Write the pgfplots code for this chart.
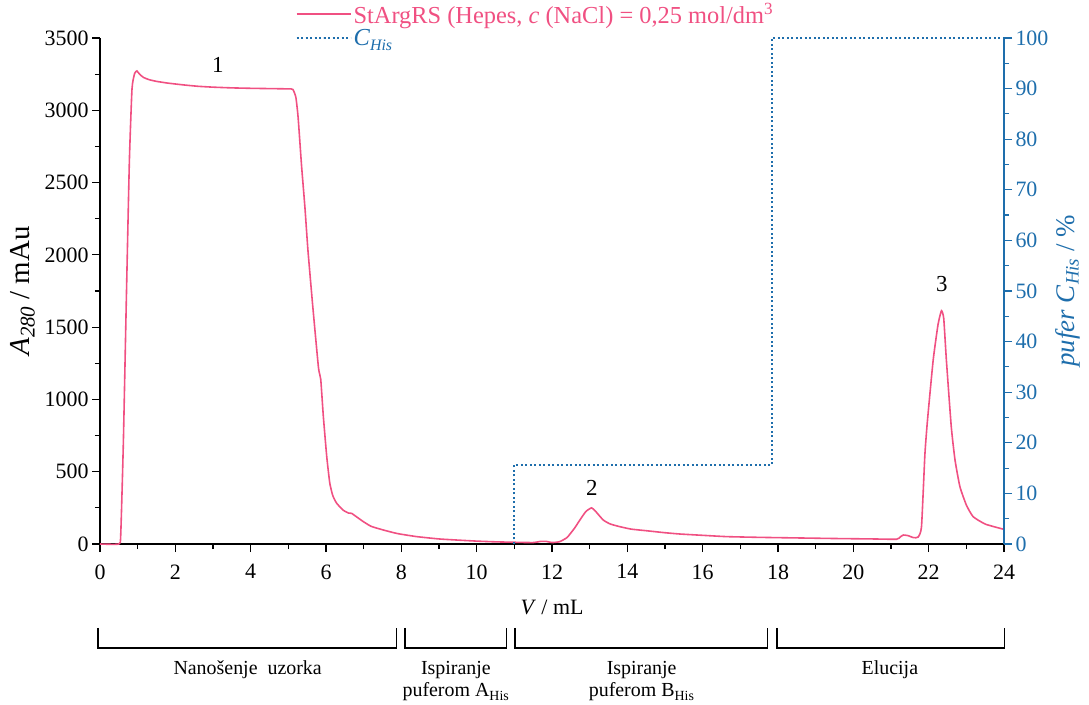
\documentclass[border=0pt]{standalone}
\usepackage{pgfplots}
\pgfplotsset{compat=1.18}
\usepackage{fontspec}
\setmainfont{Liberation Serif}
\definecolor{pinkline}{RGB}{240,80,130}
\definecolor{hisblue}{RGB}{30,110,172}
\begin{document}
\begin{tikzpicture}
\pgfplotsset{
  every axis/.append style={
    scale only axis, width=904bp, height=506bp,
    xmin=0, xmax=24,
    /pgf/number format/assume math mode=true,
    tick align=outside,
    major tick length=8bp, minor tick length=5bp,
    every tick/.style={line width=1.2pt},
    tick label style={font=\fontsize{22}{26}\selectfont},
  }
}
\begin{axis}[
  name=main,
  ymin=0, ymax=3500,
  axis x line*=bottom, axis y line*=left,
  axis line style={line width=1.2pt, -},
  xtick={0,2,...,24}, minor xtick={1,3,...,23},
  ytick={0,500,...,3500}, minor ytick={250,750,...,3250},
  scaled y ticks=false,
  yticklabel style={/pgf/number format/1000 sep={}},
  xticklabel style={yshift=-9bp},
  xlabel={\textit{V} / mL},
  xlabel style={font=\fontsize{22}{26}\selectfont, yshift=-14bp},
  ylabel={\textit{A}\raisebox{-0.35ex}{\fontsize{21}{24}\selectfont\textit{280}} / mAu},
  ylabel style={font=\fontsize{29}{34}\selectfont, yshift=3bp},
  clip=false,
  legend style={draw=none, fill=none, at={(rel axis cs:0.213,1.078)}, anchor=north west,
    font=\fontsize{24.5}{28}\selectfont, row sep=1bp,
    legend cell align=left},
  legend image code/.code={\draw[#1, line width=1.8pt] plot coordinates {(0bp,0bp) (27bp,0bp) (54bp,0bp)};},
]
\addplot[pinkline, line width=1.6pt, smooth, tension=0.3] coordinates {
(0,0)(0.5,0)(0.55,60)(0.62,700)(0.7,1700)(0.78,2650)(0.85,3150)(0.92,3255)(0.98,3272)(1.05,3250)(1.15,3228)(1.3,3212)(1.5,3200)(1.8,3188)(2.2,3176)(2.6,3166)(3.0,3160)(3.5,3155)(4.0,3152)(4.5,3150)(5.0,3148)(5.12,3144)(5.2,3090)(5.26,2950)(5.35,2620)(5.44,2330)(5.52,2034)(5.65,1640)(5.8,1220)(5.86,1140)(5.93,880)(6.02,604)(6.1,422)(6.18,335)(6.28,283)(6.45,235)(6.6,214)(6.68,212)(6.8,190)(6.99,155)(7.2,122)(7.52,97)(7.9,72)(8.41,51)(9.0,35)(9.5,27)(10,20)(10.5,15)(11,12)(11.5,10)(11.7,18)(11.85,18)(12.0,10)(12.2,16)(12.4,45)(12.6,110)(12.74,166)(12.9,225)(13.05,250)(13.15,228)(13.36,166)(13.55,138)(13.8,120)(14.1,103)(14.5,92)(15,78)(15.4,69)(16,60)(16.64,51)(17.5,46)(18.5,42)(19.5,38)(20.5,35)(21.15,33)(21.25,50)(21.33,62)(21.45,58)(21.6,44)(21.72,48)(21.81,120)(21.9,620)(21.97,860)(22.12,1273)(22.25,1520)(22.34,1614)(22.4,1560)(22.47,1273)(22.6,811)(22.7,580)(22.83,396)(23.0,270)(23.18,189)(23.5,138)(23.9,108)(24,102)
};
\addlegendentry{\textcolor{pinkline}{StArgRS (Hepes, \textit{c} (NaCl) = 0,25 mol/dm\textsuperscript{3}}}
\addlegendimage{hisblue, dash pattern=on 2bp off 2.5bp}
\addlegendentry{\textcolor{hisblue}{\textit{C}\smash{\raisebox{-0.45ex}{\fontsize{16}{19}\selectfont\textit{His}}}}}
% peak labels
\node[font=\fontsize{23}{27}\selectfont] at (axis cs:3.13,3313) {1};
\node[font=\fontsize{23}{27}\selectfont] at (axis cs:13.06,387) {2};
\node[font=\fontsize{23}{27}\selectfont] at (axis cs:22.35,1798) {3};
% phase brackets
\begin{scope}[line width=1.3pt]
\draw (axis cs:-0.05,-581) -- (axis cs:-0.05,-719) -- (axis cs:7.88,-719) -- (axis cs:7.88,-581);
\draw (axis cs:8.10,-581) -- (axis cs:8.10,-719) -- (axis cs:10.80,-719) -- (axis cs:10.80,-581);
\draw (axis cs:11.02,-581) -- (axis cs:11.02,-719) -- (axis cs:17.73,-719) -- (axis cs:17.73,-581);
\draw (axis cs:17.97,-581) -- (axis cs:17.97,-719) -- (axis cs:24.02,-719) -- (axis cs:24.02,-581);
\end{scope}
\begin{scope}[every node/.style={font=\fontsize{20}{24}\selectfont, anchor=base}]
\node at (axis cs:3.92,-906) {Nanošenje\ \ uzorka};
\node at (axis cs:9.45,-906) {Ispiranje};
\node at (axis cs:9.45,-1058) {puferom A\textsubscript{His}};
\node at (axis cs:14.38,-906) {Ispiranje};
\node at (axis cs:14.38,-1058) {puferom B\textsubscript{His}};
\node at (axis cs:20.97,-906) {Elucija};
\end{scope}
\end{axis}
\begin{axis}[
  ymin=0, ymax=100,
  axis x line=none, axis y line*=right,
  axis line style={line width=1.2pt, hisblue, -},
  ytick={0,10,...,100}, minor ytick={5,15,...,95},
  every tick/.style={line width=1.2pt, hisblue},
  yticklabel style={hisblue},
  ylabel={\textit{pufer C}\raisebox{-0.35ex}{\fontsize{19}{22}\selectfont\textit{His}} / \%},
  ylabel style={hisblue, font=\fontsize{27}{32}\selectfont},
]
\addplot[hisblue, line width=1.8pt, dash pattern=on 2bp off 2.5bp] coordinates {
(11,0)(11,15.6)(17.84,15.6)(17.84,100)(24,100)
};
\end{axis}
\pgfresetboundingbox
\path[use as bounding box] ([xshift=-100bp,yshift=-161bp]main.south west) rectangle ([xshift=85bp,yshift=38bp]main.north east);
\end{tikzpicture}
\end{document}
